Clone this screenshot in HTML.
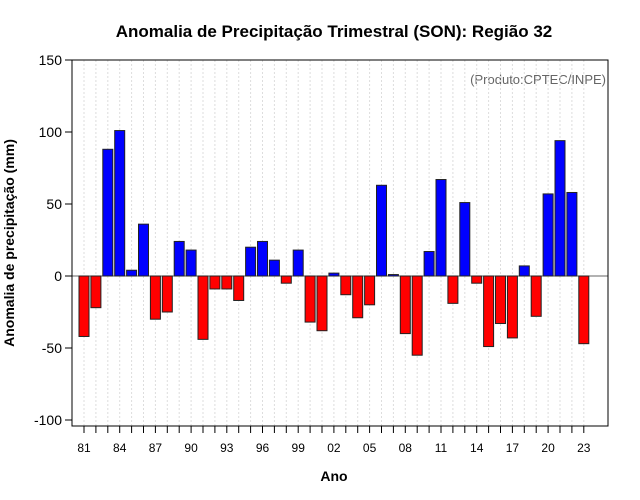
<!DOCTYPE html>
<html><head><meta charset="utf-8"><style>body{margin:0;background:#fff}svg{display:block;font-family:"Liberation Sans",sans-serif}</style></head>
<body>
<svg id="c" width="640" height="500">
<text x="334" y="37" text-anchor="middle" font-size="17" font-weight="bold">Anomalia de Precipitação Trimestral (SON): Região 32</text>
<text x="606" y="84" text-anchor="end" font-size="13" fill="#666">(Produto:CPTEC/INPE)</text>
<text x="334" y="481" text-anchor="middle" font-size="14" font-weight="bold">Ano</text>
<text transform="translate(14,243) rotate(-90)" text-anchor="middle" font-size="14" font-weight="bold">Anomalia de precipitação (mm)</text>
<g id="g"></g>
<rect x="72" y="60" width="536" height="366" fill="none" stroke="#000"/>
</svg>
<script>
const years=[81,82,83,84,85,86,87,88,89,90,91,92,93,94,95,96,97,98,99,0,1,2,3,4,5,6,7,8,9,10,11,12,13,14,15,16,17,18,19,20,21,22,23];
const values=[-42,-22,88,101,4,36,-30,-25,24,18,-44,-9,-9,-17,20,24,11,-5,18,-32,-38,2,-13,-29,-20,63,1,-40,-55,17,67,-19,51,-5,-49,-33,-43,7,-28,57,94,58,-47];
const yTicks=[-100,-50,0,50,100,150];
const xLabelEvery=3;
const NS='http://www.w3.org/2000/svg';
const g=document.getElementById('g');
const X=i=>84+i*11.9;
const Y=v=>276-v*1.44;
function mk(t,a){const e=document.createElementNS(NS,t);for(const k in a)e.setAttribute(k,a[k]);g.appendChild(e);return e;}
years.forEach((yr,i)=>{
 const l=mk('line',{x1:X(i),x2:X(i),y1:60,y2:426,stroke:'#ddd','stroke-dasharray':'2,2'});
 
 
 const t=mk('line',{x1:X(i),x2:X(i),y1:426,y2:433,stroke:'#000'});
 
 
 if(i%xLabelEvery===0){
  const tx=mk('text',{x:X(i),y:452,'text-anchor':'middle','font-size':12});
  tx.textContent=String(yr).padStart(2,'0');
  
  
 }
});
yTicks.forEach(v=>{
 const t=mk('line',{x1:65,x2:72,y1:Y(v),y2:Y(v),stroke:'#000'});
 
 
 const tx=mk('text',{x:62,y:Y(v)+5,'text-anchor':'end','font-size':14});
 tx.textContent=v;
 
 
});
const z=mk('line',{x1:72,x2:608,y1:Y(0),y2:Y(0),stroke:'#666'});


values.forEach((v,i)=>{
 const y0=Math.min(Y(v),Y(0)),h=Math.abs(Y(v)-Y(0));
 const r=mk('rect',{x:X(i)-5,y:y0,width:10,height:h,fill:v>=0?'#0000ff':'#ff0000',stroke:'#222','stroke-width':1});
 
 
});
</script>
</body></html>
